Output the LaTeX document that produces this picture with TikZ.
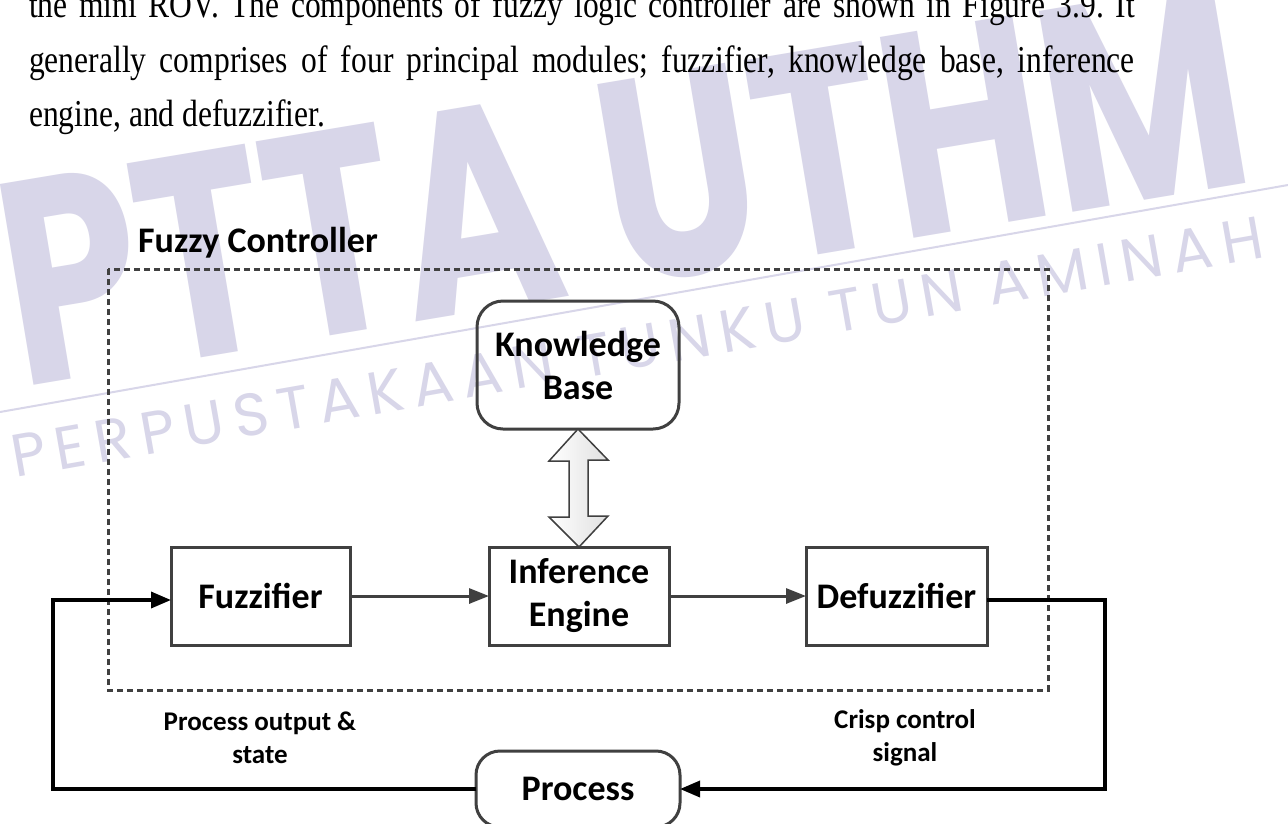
\documentclass[tikz,border=0pt]{standalone}
\usepackage{fontspec}
\usepackage{graphicx}
\setmainfont{Carlito}
\newfontfamily\serifpara{Liberation Serif}
\newfontfamily\wmfont{Poppins}
\usetikzlibrary{arrows.meta,calc}
\definecolor{boxgray}{RGB}{64,64,64}
\definecolor{wm}{RGB}{216,214,233}
\frenchspacing
\begin{document}
\begin{tikzpicture}[x=1pt,y=-1pt,
  block/.style={draw=boxgray, line width=3pt, minimum height=98pt, font=\fontsize{36}{43}\selectfont\bfseries, align=center, inner sep=0pt, outer sep=0pt},
  rblock/.style={block, rounded corners=24pt},
  flow/.style={draw=boxgray, line width=3pt, -{Triangle[length=20pt,width=15pt]}},
  loopline/.style={draw=black, line width=3.5pt, -{Triangle[length=20pt,width=16pt]}},
  lbl/.style={font=\fontsize{27}{33}\selectfont\bfseries, align=center, inner sep=0pt},
  para/.style={anchor=base west, inner sep=0pt, font=\serifpara\fontsize{38}{38}\selectfont},
  dblarrow/.style={draw=boxgray, line width=1.5pt, left color=white, right color=black!12, line join=miter},
]
\useasboundingbox (0,0) rectangle (1288,823);
\fill[white] (0,0) rectangle (1288,823);

% watermark
\draw[wm, line width=2pt] (0,412) -- (1288,185);
\begin{scope}[shift={(20,388)}, rotate=9.5, xscale=0.76]
  \node[wm, transform shape, anchor=base west, inner sep=0pt, font=\wmfont\bfseries\fontsize{290}{290}\selectfont] (wmbig) at (0,0) {PTTA UTHM};
\end{scope}
\begin{scope}[shift={(15,478)}, rotate=10]
  \node[wm, transform shape, anchor=base west, inner sep=0pt, font=\wmfont\fontsize{60}{60}\selectfont\addfontfeature{LetterSpace=16}] (wmsmall) at (0,0) {PERPUSTAKAAN TUNKU TUN AMINAH};
\end{scope}

% paragraph
\node[para] (p1) at (29,17) {\scalebox{0.83}[1]{\makebox[1332pt][s]{the mini ROV. The components of fuzzy logic controller are shown in Figure 3.9. It}}};
\node[para] (p2) at (29,72) {\scalebox{0.83}[1]{\makebox[1332pt][s]{generally comprises of four principal modules; fuzzifier, knowledge base, inference}}};
\node[para] (p3) at (29,126) {\scalebox{0.83}[1]{engine, and defuzzifier.}};

% controller frame
\draw[boxgray, line width=3pt, dash pattern=on 6pt off 4pt] (108,269) rectangle (1048,690);
\node[anchor=base west, inner sep=0pt, font=\fontsize{36}{36}\selectfont\bfseries] (title) at (138,252) {Fuzzy Controller};

% blocks
\node[rblock, minimum width=202pt, minimum height=128pt, rounded corners=26pt] (kb) at (578,365) {Knowledge\\Base};
\node[block, minimum width=179pt] (fz) at (260.5,596) {Fuzzifier};
\node[block, minimum width=180pt] (ie) at (579,596) {Inference\\Engine};
\node[block, minimum width=181pt] (df) at (896.5,596) {Defuzzifier};
\node[rblock, minimum width=204pt, minimum height=76pt] (pr) at (578,789) {Process};

% double arrow between knowledge base and inference engine
\path[dblarrow] (kb.south) -- ++(30,31) -- ++(-20,0) -- ++(0,56) -- ++(20,0) -- (ie.north)
  -- ++(-30,-30) -- ++(20,0) -- ++(0,-56) -- ++(-20,0) -- cycle;

% flow arrows
\draw[flow] (fz.east) -- (ie.west);
\draw[flow] (ie.east) -- (df.west);

% feedback loop
\coordinate (rt) at (1105,789);
\coordinate (lt) at (53,789);
\draw[loopline] ([yshift=-4pt]df.east) -| (rt) -- (pr.east);
\draw[loopline] (pr.west) -- (lt) |- ([yshift=-4pt]fz.west);

% labels
\node[lbl] (l1) at (260,738) {Process output \&\\state};
\node[lbl] (l2) at (905,738) {Crisp control\\signal};
\end{tikzpicture}
\end{document}
